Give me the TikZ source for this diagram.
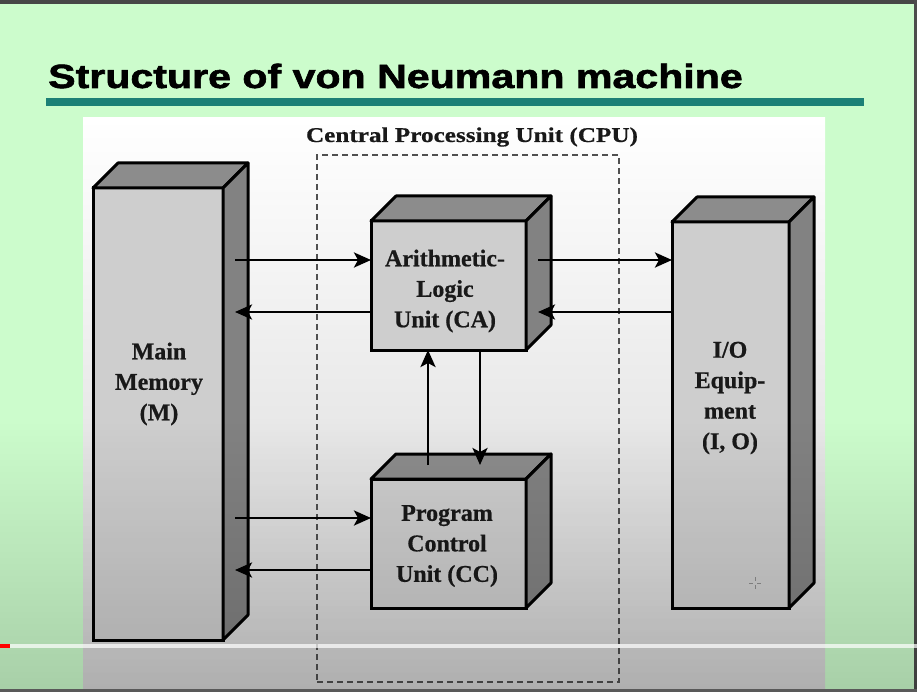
\documentclass[tikz,border=0pt]{standalone}
\usepackage{fontspec}
\setmainfont{Liberation Serif}[BoldFeatures={FakeBold=0.6}]
\newfontfamily\titlefont{Liberation Sans}[BoldFeatures={FakeBold=1.6}]
\usetikzlibrary{arrows.meta,calc}
\definecolor{bggreen}{RGB}{204,252,204}
\definecolor{tealline}{RGB}{28,128,118}
\definecolor{frontgray}{RGB}{206,206,206}
\definecolor{sidegray}{RGB}{130,130,130}
\definecolor{topgray}{RGB}{140,140,140}
\definecolor{dashgray}{RGB}{80,80,80}
\definecolor{txt}{RGB}{25,25,25}
\definecolor{panelbot}{RGB}{212,212,212}
\tikzset{
  front/.style={draw=black, line width=3pt, fill=frontgray, rectangle, inner sep=0pt, outer sep=0pt},
  face/.style={draw=black, line width=3pt, line join=round},
  lab/.style={font=\fontsize{24}{30.5}\selectfont\bfseries, text=txt, align=center, inner sep=0pt},
  arr/.style={line width=2.8pt, -{Stealth[length=17pt,width=15pt,inset=4pt]}},
  cpubox/.style={draw=dashgray, line width=1.6pt, dash pattern=on 6pt off 4pt, rectangle, inner sep=0pt, outer sep=0pt},
}
\newcommand\cubefaces[1]{%
  \filldraw[face, fill=topgray] (#1.north west) -- ++(25,-25) -- ($(#1.north east)+(25,-25)$) -- (#1.north east) -- cycle;
  \filldraw[face, fill=sidegray] (#1.north east) -- ++(25,-25) -- ($(#1.south east)+(25,-25)$) -- (#1.south east) -- cycle;
}
\begin{document}
\begin{tikzpicture}[x=1pt,y=-1pt]
\useasboundingbox (0,0) rectangle (917,692);
% background
\fill[bggreen] (0,0) rectangle (917,692);
\shade[top color=white, bottom color=panelbot] (83,118) rectangle (825,692);
\fill[black!72] (0,0) rectangle (917,4);
\fill[black!70] (914,0) rectangle (917,692);
% title
\node[anchor=base west, inner sep=0pt] (title) at (48,88)
  {\scalebox{1.285}[1.05]{\titlefont\bfseries\fontsize{32}{32}\selectfont Structure of von Neumann machine}};
\fill[tealline] (46,98) rectangle (864,106);
% CPU dashed box
\node[cpubox, minimum width=302pt, minimum height=527pt] (cpu) at (468,418.5) {};
\node[anchor=base, inner sep=0pt, text=txt] (cpulab) at (472,142)
  {\scalebox{1.2}[1]{\fontsize{21}{20}\selectfont\bfseries Central Processing Unit (CPU)}};
% boxes
\node[front, minimum width=130pt, minimum height=452pt] (mm) at (158,414) {};
\cubefaces{mm}
\node[front, minimum width=155pt, minimum height=129pt] (alu) at (448.5,285.5) {};
\cubefaces{alu}
\node[front, minimum width=155pt, minimum height=129pt] (pcu) at (448.5,543.5) {};
\cubefaces{pcu}
\node[front, minimum width=117pt, minimum height=386pt] (io) at (730.5,415) {};
\cubefaces{io}
% labels
\node[lab] (mmlab) at (159,384) {Main\\Memory\\(M)};
\node[lab] (alulab) at (445,291) {Arithmetic-\\Logic\\Unit (CA)};
\node[lab] (pculab) at (447,546) {Program\\Control\\Unit (CC)};
\node[lab] (iolab) at (730,398) {I/O\\Equip-\\ment\\(I, O)};
% connector anchors
\coordinate (mmR) at ([xshift=12pt]mm.east);
\coordinate (aluR) at ([xshift=12pt]alu.east);
\coordinate (aluIn) at ([yshift=25.5pt]alu.west);
\coordinate (aluOut) at ([yshift=-26.5pt]alu.west);
\coordinate (pcuIn) at ([yshift=25.5pt]pcu.west);
\coordinate (pcuOut) at ([yshift=-26.5pt]pcu.west);
\coordinate (upB) at ([xshift=-20.5pt,yshift=14pt]pcu.north);
\coordinate (dnB) at ([xshift=31.5pt,yshift=14pt]pcu.north);
% arrows
\draw[arr] (mmR |- aluIn) -- (aluIn);
\draw[arr] (aluOut) -- (mmR |- aluOut);
\draw[arr] (aluR |- aluIn) -- (io.west |- aluIn);
\draw[arr] (io.west |- aluOut) -- (aluR |- aluOut);
\draw[arr] (mmR |- pcuIn) -- (pcuIn);
\draw[arr] (pcuOut) -- (mmR |- pcuOut);
\draw[arr] (upB) -- (upB |- alu.south);
\draw[arr] (dnB |- alu.south) -- (dnB);
% cursor
\draw[black!45, line width=0.7pt] (749,583) -- (753,583) (757,583) -- (761,583) (755,577) -- (755,581) (755,585) -- (755,589);
% darkening toward the bottom
\foreach \i in {0,...,135} {
  \fill[black, opacity={\i*0.0013}] (0,{420+2*\i}) rectangle (917,{422+2*\i});
}
% progress bar
\fill[white, opacity=0.7] (0,644) rectangle (917,648);
\fill[red] (0,644) rectangle (10,648);
\fill[black!65] (0,689) rectangle (917,692);
\end{tikzpicture}
\end{document}
